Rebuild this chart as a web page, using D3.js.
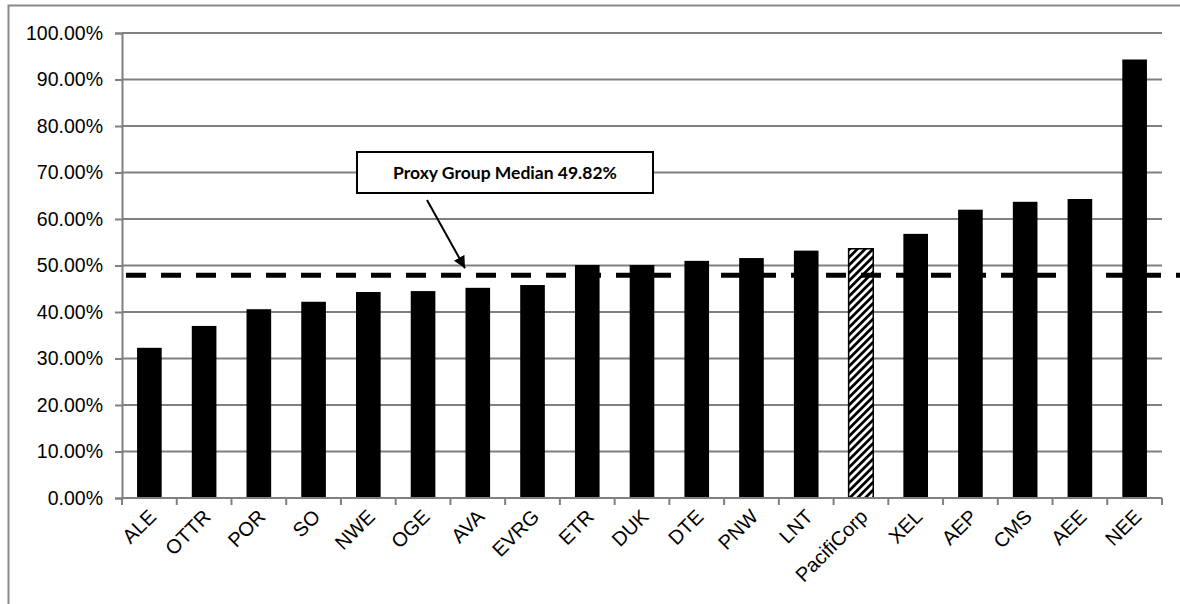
<!DOCTYPE html>
<html>
<head>
<meta charset="utf-8">
<script src="https://cdn.jsdelivr.net/npm/d3@7"></script>
<style>
  body { margin: 0; background: #fff; }
  svg { display: block; }
</style>
</head>
<body>
<div id="chart"></div>
<script>
const categories = ["ALE", "OTTR", "POR", "SO", "NWE", "OGE", "AVA", "EVRG", "ETR", "DUK",
  "DTE", "PNW", "LNT", "PacifiCorp", "XEL", "AEP", "CMS", "AEE", "NEE"];
const values = [32.3, 37.0, 40.6, 42.2, 44.3, 44.5, 45.2, 45.8, 50.1, 50.1,
  51.0, 51.6, 53.2, 53.6, 56.8, 62.0, 63.7, 64.3, 94.3];
const highlight = "PacifiCorp";
const yTicks = [0, 10, 20, 30, 40, 50, 60, 70, 80, 90, 100];
const medianLabel = "Proxy Group Median 49.82%";
const medianLine = 47.9;

const width = 1180, height = 604;
const margin = {top: 33, right: 18, bottom: 106, left: 122};

const svg = d3.select("#chart").append("svg")
    .attr("width", width)
    .attr("height", height);

const defs = svg.append("defs");
const hatch = defs.append("pattern")
    .attr("id", "hatch")
    .attr("patternUnits", "userSpaceOnUse")
    .attr("width", 5.5)
    .attr("height", 5.5)
    .attr("patternTransform", "rotate(45)");
hatch.append("rect").attr("width", 5.5).attr("height", 5.5).attr("fill", "#fff");
hatch.append("rect").attr("width", 2.8).attr("height", 5.5).attr("fill", "#000");

// outer frame
svg.append("path")
    .attr("d", `M8.5,${height} V5.5 H${width}`)
    .attr("fill", "none")
    .attr("stroke", "#8a8a8a")
    .attr("stroke-width", 2);

const x = d3.scaleBand()
    .domain(categories)
    .range([margin.left, width - margin.right])
    .paddingInner(0.55)
    .paddingOuter(0.275);

const y = d3.scaleLinear()
    .domain([0, 100])
    .range([height - margin.bottom, margin.top]);

// gridlines
svg.append("g")
    .selectAll("line")
    .data(yTicks.filter(d => d > 0))
    .join("line")
      .attr("x1", margin.left)
      .attr("x2", width - margin.right)
      .attr("y1", d => y(d))
      .attr("y2", d => y(d))
      .attr("stroke", "#808080")
      .attr("stroke-width", 2);

// y axis
const yAxis = svg.append("g")
    .attr("transform", `translate(${margin.left},0)`)
    .call(d3.axisLeft(y).tickValues(yTicks).tickSize(7).tickPadding(12)
      .tickFormat(d => d.toFixed(2) + "%"));
yAxis.select(".domain").attr("stroke", "#808080").attr("stroke-width", 2);
yAxis.selectAll(".tick line").attr("stroke", "#808080").attr("stroke-width", 2);
yAxis.selectAll("text")
    .attr("font-family", "Liberation Sans, Arial, sans-serif")
    .attr("font-size", 19.5)
    .attr("fill", "#000");

// bars
svg.append("g")
    .selectAll("rect")
    .data(categories.map((c, i) => ({name: c, value: values[i]})))
    .join("rect")
      .attr("x", d => x(d.name))
      .attr("width", x.bandwidth())
      .attr("y", d => y(d.value))
      .attr("height", d => y(0) - y(d.value))
      .attr("fill", d => d.name === highlight ? "url(#hatch)" : "#000")
      .attr("stroke", d => d.name === highlight ? "#000" : "none")
      .attr("stroke-width", 1.5);

// x axis line with boundary ticks
const step = x.step();
const xAxis = svg.append("g");
xAxis.append("line")
    .attr("x1", margin.left)
    .attr("x2", width - margin.right)
    .attr("y1", y(0))
    .attr("y2", y(0))
    .attr("stroke", "#808080")
    .attr("stroke-width", 2);
xAxis.selectAll(".bt")
    .data(d3.range(categories.length + 1))
    .join("line")
      .attr("class", "bt")
      .attr("x1", i => margin.left + i * step)
      .attr("x2", i => margin.left + i * step)
      .attr("y1", y(0))
      .attr("y2", y(0) + 7)
      .attr("stroke", "#808080")
      .attr("stroke-width", 2);
xAxis.selectAll("text")
    .data(categories)
    .join("text")
      .attr("transform", d => `translate(${x(d) + x.bandwidth() / 2 + 3},${y(0) + 15}) rotate(-45)`)
      .attr("text-anchor", "end")
      .attr("dy", "0.35em")
      .attr("font-family", "Liberation Sans, Arial, sans-serif")
      .attr("font-size", 20)
      .attr("fill", "#000")
      .text(d => d);

// median dashed line
svg.append("line")
    .attr("x1", margin.left + 4)
    .attr("x2", width)
    .attr("y1", y(medianLine))
    .attr("y2", y(medianLine))
    .attr("stroke", "#000")
    .attr("stroke-width", 5)
    .attr("stroke-dasharray", "20,15");

// annotation box
const box = {x: 357, y: 152, w: 296, h: 41};
svg.append("rect")
    .attr("x", box.x)
    .attr("y", box.y)
    .attr("width", box.w)
    .attr("height", box.h)
    .attr("fill", "#fff")
    .attr("stroke", "#000")
    .attr("stroke-width", 2);
svg.append("text")
    .attr("x", box.x + box.w / 2)
    .attr("y", box.y + box.h / 2)
    .attr("dy", "0.35em")
    .attr("text-anchor", "middle")
    .attr("font-family", "Lato, Open Sans, sans-serif")
    .attr("font-weight", "bold")
    .attr("font-size", 17.5)
    .attr("fill", "#000")
    .text(medianLabel);

// arrow
defs.append("marker")
    .attr("id", "arrow")
    .attr("viewBox", "0 0 10 10")
    .attr("refX", 10)
    .attr("refY", 5)
    .attr("markerWidth", 6)
    .attr("markerHeight", 6)
    .attr("markerUnits", "strokeWidth")
    .attr("orient", "auto")
  .append("path")
    .attr("d", "M0,0 L10,5 L0,10 Z")
    .attr("fill", "#000");
svg.append("line")
    .attr("x1", 427)
    .attr("y1", box.y + box.h + 7)
    .attr("x2", 465)
    .attr("y2", y(medianLine) - 7)
    .attr("stroke", "#000")
    .attr("stroke-width", 2)
    .attr("marker-end", "url(#arrow)");
</script>
</body>
</html>
